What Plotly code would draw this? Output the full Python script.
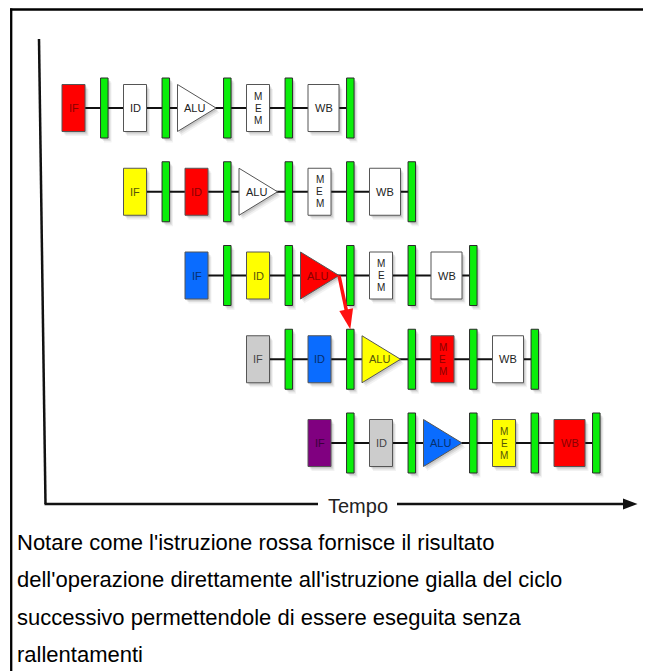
import plotly.graph_objects as go

# ---------------- data ----------------
STAGES = ["IF", "ID", "ALU", "MEM", "WB"]
ROW_COLORS = [
    ["red", "white", "white", "white", "white"],
    ["yellow", "red", "white", "white", "white"],
    ["blue", "yellow", "red", "white", "white"],
    ["gray", "blue", "yellow", "red", "white"],
    ["purple", "gray", "blue", "yellow", "red"],
]
FORWARD_FROM = (2, "ALU")   # row, stage producing the result
FORWARD_TO = (3, 1)         # row, pipeline-register index receiving it
AXIS_LABEL = "Tempo"
CAPTION_LINES = [
    "Notare come l'istruzione rossa fornisce il risultato",
    "dell'operazione direttamente all'istruzione gialla del ciclo",
    "successivo permettendole di essere eseguita senza",
    "rallentamenti",
]

# ---------------- styles / geometry ----------------
FILL = {"red": "#ff0000", "yellow": "#ffff00", "blue": "#0a6cff",
        "gray": "#cccccc", "purple": "#800080", "white": "#ffffff"}
TEXTC = {"red": "#8a0000", "yellow": "#55550a", "blue": "#06306e",
         "gray": "#444444", "purple": "#3a003a", "white": "#222222"}
GREEN = "#0aee0a"
FONT = "Liberation Sans, Arial, sans-serif"

W, H = 651, 671
PAGE_OFF = 8  # default body margin of the html page
X0, CYCLE = 62.0, 61.5
Y0, DY = 108.0, 83.75
BOX_H, BAR_H, BAR_W, BAR_OFF = 47.0, 60.0, 7.5, 42.3
STAGE_GEOM = {"IF": (0.0, 23.0), "ID": (0.0, 23.0), "ALU": (-7.5, 38.5),
              "MEM": (0.0, 23.0), "WB": (0.0, 31.0)}

fig = go.Figure()
fig.add_trace(go.Scatter(x=[PAGE_OFF, W], y=[PAGE_OFF, H], mode="markers",
                         marker=dict(opacity=0), hoverinfo="skip", showlegend=False))

shapes = []
annots = []


def shadow_rect(x0, y0, x1, y1):
    for dx, dy, a in [(3.5, 4.5, 0.05), (2.5, 3.0, 0.08), (1.5, 1.8, 0.10)]:
        shapes.append(dict(type="rect", x0=x0 + dx, y0=y0 + dy, x1=x1 + dx, y1=y1 + dy,
                           fillcolor=f"rgba(0,0,0,{a})", line=dict(width=0), layer="below"))


def shadow_path(path_fn):
    for dx, dy, a in [(3.5, 4.5, 0.05), (2.5, 3.0, 0.08), (1.5, 1.8, 0.10)]:
        shapes.append(dict(type="path", path=path_fn(dx, dy),
                           fillcolor=f"rgba(0,0,0,{a})", line=dict(width=0), layer="below"))


for r, colors in enumerate(ROW_COLORS):
    yc = Y0 + r * DY
    start = X0 + r * CYCLE
    # backbone line
    last_bar = start + (len(STAGES) - 1) * CYCLE + BAR_OFF
    shapes.append(dict(type="line", x0=start + 20, y0=yc, x1=last_bar, y1=yc,
                       line=dict(color="#111111", width=2.2), layer="above"))
    for s, st in enumerate(STAGES):
        cs = start + s * CYCLE
        off, wid = STAGE_GEOM[st]
        bx0, bx1 = cs + off, cs + off + wid
        col = colors[s]
        if st == "ALU":
            def tri(dx=0.0, dy=0.0, bx0=bx0, bx1=bx1, yc=yc):
                return (f"M {bx0+dx},{yc-BOX_H/2+dy} L {bx0+dx},{yc+BOX_H/2+dy} "
                        f"L {bx1+dx},{yc+dy} Z")
            shadow_path(tri)
            shapes.append(dict(type="path", path=tri(), fillcolor=FILL[col],
                               line=dict(color="#555555", width=1), layer="above"))
            annots.append(dict(x=bx0 + 17, y=yc, text=st, showarrow=False,
                               font=dict(family=FONT, size=11, color=TEXTC[col])))
        else:
            shadow_rect(bx0, yc - BOX_H / 2, bx1, yc + BOX_H / 2)
            shapes.append(dict(type="rect", x0=bx0, y0=yc - BOX_H / 2, x1=bx1, y1=yc + BOX_H / 2,
                               fillcolor=FILL[col], line=dict(color="#555555", width=1),
                               layer="above"))
            if st == "MEM":
                for k, ch in enumerate(st):
                    annots.append(dict(x=(bx0 + bx1) / 2, y=yc + (k - 1) * 12, text=ch,
                                       showarrow=False,
                                       font=dict(family=FONT, size=10, color=TEXTC[col])))
            else:
                annots.append(dict(x=(bx0 + bx1) / 2, y=yc, text=st, showarrow=False,
                                   font=dict(family=FONT, size=11, color=TEXTC[col])))
        # pipeline register (green bar)
        gx = cs + BAR_OFF
        shadow_rect(gx - BAR_W / 2, yc - BAR_H / 2, gx + BAR_W / 2, yc + BAR_H / 2)
        shapes.append(dict(type="rect", x0=gx - BAR_W / 2, y0=yc - BAR_H / 2,
                           x1=gx + BAR_W / 2, y1=yc + BAR_H / 2, fillcolor=GREEN,
                           line=dict(color="#2a2a2a", width=1), layer="above"))

# forwarding arrow
fr, fst = FORWARD_FROM
si = STAGES.index(fst)
off, wid = STAGE_GEOM[fst]
ax0 = X0 + (fr + si) * CYCLE + off + wid
ay0 = Y0 + fr * DY
tr, ti = FORWARD_TO
ax1 = X0 + (tr + ti) * CYCLE + BAR_OFF
ay1 = Y0 + tr * DY - BAR_H / 2
dxv, dyv = ax1 - ax0, ay1 - ay0
L = (dxv ** 2 + dyv ** 2) ** 0.5
ux, uy = dxv / L, dyv / L
HL, HW = 20.0, 7.0
bxp, byp = ax1 - ux * HL, ay1 - uy * HL
shapes.append(dict(type="line", x0=ax0, y0=ay0, x1=bxp + ux * 2, y1=byp + uy * 2,
                   line=dict(color="#ff1111", width=3.5), layer="above"))
shapes.append(dict(type="path",
                   path=(f"M {ax1},{ay1} L {bxp - uy * HW},{byp + ux * HW} "
                         f"L {bxp + uy * HW},{byp - ux * HW} Z"),
                   fillcolor="#ff1111", line=dict(width=0), layer="above"))

# time axes
shapes.append(dict(type="line", x0=39, y0=39, x1=45.5, y1=504,
                   line=dict(color="#111111", width=2.5), layer="above"))
shapes.append(dict(type="line", x0=44.5, y0=504, x1=318, y1=504,
                   line=dict(color="#111111", width=2.5), layer="above"))
shapes.append(dict(type="line", x0=397, y0=504, x1=625, y1=504,
                   line=dict(color="#111111", width=2.5), layer="above"))
shapes.append(dict(type="path", path="M 623,498.5 L 637.5,504 L 623,509.5 Z",
                   fillcolor="#111111", line=dict(width=0), layer="above"))
annots.append(dict(x=358, y=506, text=AXIS_LABEL, showarrow=False,
                   font=dict(family=FONT, size=20, color="#222222")))

# frame
shapes.append(dict(type="line", x0=10, y0=9.5, x1=W + PAGE_OFF, y1=9.5,
                   line=dict(color="#000000", width=2.3), layer="above"))
shapes.append(dict(type="line", x0=11.2, y0=8.5, x1=11.2, y1=H + PAGE_OFF,
                   line=dict(color="#000000", width=2.3), layer="above"))

# caption
for k, line in enumerate(CAPTION_LINES):
    annots.append(dict(x=14.5, y=542 + k * 37.5, text=line, showarrow=False,
                       xanchor="left", yanchor="middle",
                       font=dict(family=FONT, size=22, color="#000000")))

fig.update_layout(
    width=W, height=H, margin=dict(l=0, r=0, t=0, b=0),
    paper_bgcolor="white", plot_bgcolor="white",
    xaxis=dict(range=[PAGE_OFF, W + PAGE_OFF], visible=False, fixedrange=True),
    yaxis=dict(range=[H + PAGE_OFF, PAGE_OFF], visible=False, fixedrange=True),
    shapes=shapes, annotations=annots, showlegend=False,
)
fig.write_html("out.html", config={"displayModeBar": False})
